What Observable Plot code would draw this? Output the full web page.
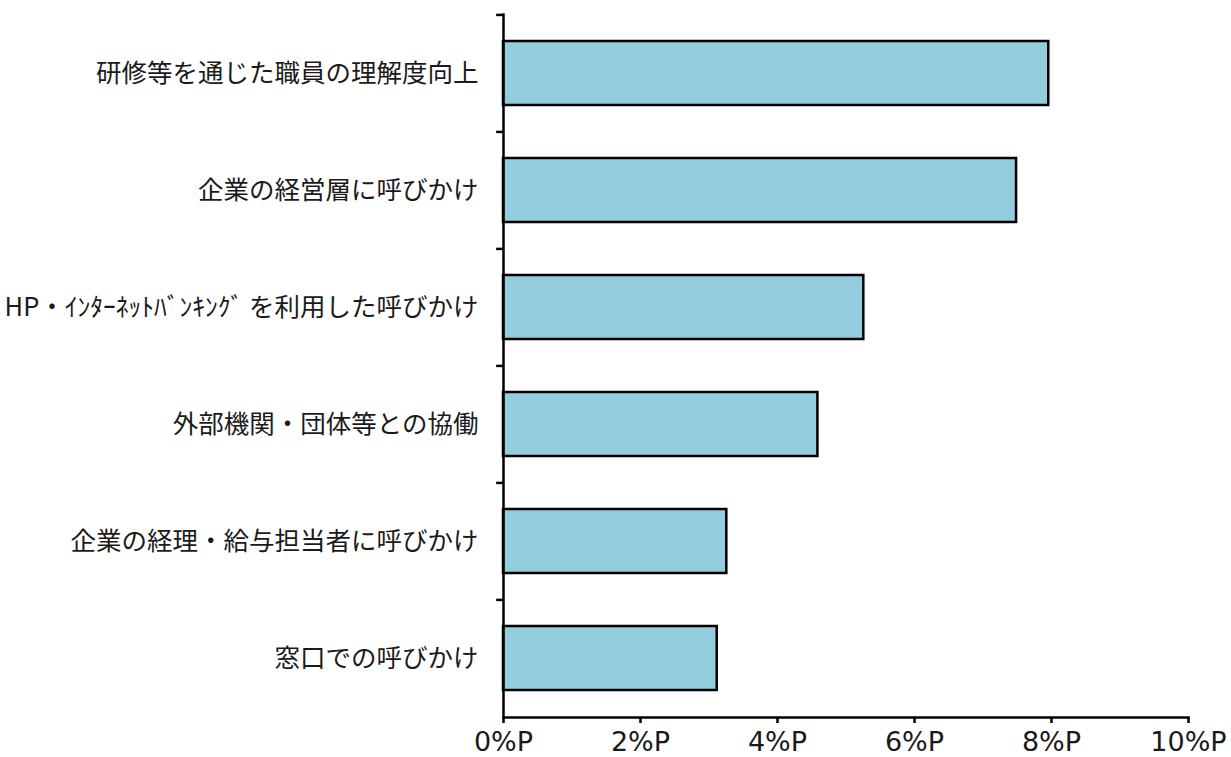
<!DOCTYPE html>
<html><head><meta charset="utf-8">
<script src="https://cdn.jsdelivr.net/npm/d3@7"></script>
<script src="https://cdn.jsdelivr.net/npm/@observablehq/plot@0.6"></script>
<style>body{margin:0;background:#fff;} svg{display:block;}</style>
</head><body><div id="chart"></div>
<script>
const categories = [
  "研修等を通じた職員の理解度向上",
  "企業の経営層に呼びかけ",
  "HP・ｲﾝﾀｰﾈｯﾄﾊﾞﾝｷﾝｸﾞ を利用した呼びかけ",
  "外部機関・団体等との協働",
  "企業の経理・給与担当者に呼びかけ",
  "窓口での呼びかけ"
];
const values = [7.96, 7.49, 5.26, 4.59, 3.26, 3.12];
const xTicks = [0, 2, 4, 6, 8, 10];

const data = categories.map((c, i) => ({category: c, value: values[i]}));
const W = 1231, H = 757, mt = 14, mb = 40, ml = 503, mr = 43;
const step = (H - mt - mb) / categories.length;
const font = "'Noto Sans CJK JP', 'Noto Sans', sans-serif";

const chart = Plot.plot({
  width: W, height: H,
  marginTop: mt, marginBottom: mb, marginLeft: ml, marginRight: mr,
  style: {fontFamily: font, color: "#000", background: "#fff", overflow: "visible"},
  x: {domain: [0, 10]},
  y: {domain: categories, paddingInner: 0.454, paddingOuter: 0.227},
  marks: [
    Plot.barX(data, {x: "value", y: "category", fill: "#93CDDD", stroke: "#000", strokeWidth: 2.5}),
    Plot.ruleY(categories, {y: d => d, x1: -0.1, x2: 0, dy: -step / 2, stroke: "#000", strokeWidth: 2.5, clip: false}),
    Plot.frame({anchor: "left", stroke: "#000", strokeWidth: 2.5}),
    Plot.frame({anchor: "bottom", stroke: "#000", strokeWidth: 2.5}),
    Plot.axisY({tickSize: 0, tickPadding: 25, fontSize: 25.5, label: null, textOverflow: null, fill: "#1a1a1a"}),
    Plot.axisX({ticks: xTicks, tickFormat: d => d + "%P", tickSize: 6, tickPadding: 8, fontSize: 27, fontFamily: "'DejaVu Sans', sans-serif", label: null, strokeWidth: 2.5, fill: "#1a1a1a"})
  ]
});
document.getElementById("chart").appendChild(chart);
</script>
</body></html>
